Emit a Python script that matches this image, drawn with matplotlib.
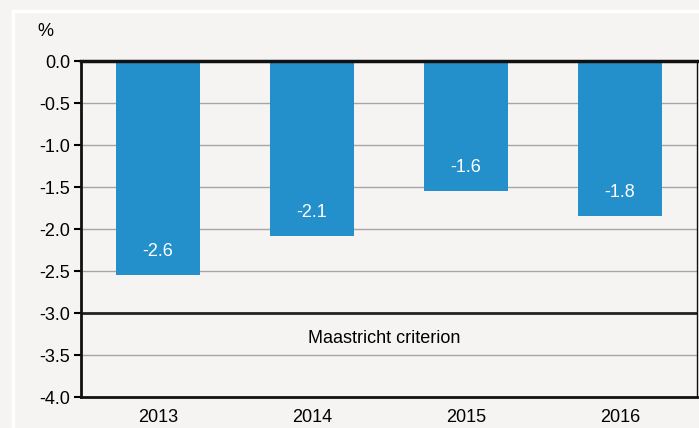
import matplotlib
matplotlib.use('Agg')
import matplotlib.pyplot as plt
from matplotlib.lines import Line2D

years = ['2013', '2014', '2015', '2016']
deficit = [-2.55, -2.08, -1.55, -1.84]
labels = ['-2.6', '-2.1', '-1.6', '-1.8']
yticks = [0.0, -0.5, -1.0, -1.5, -2.0, -2.5, -3.0, -3.5, -4.0]
criterion = -3.0

bg = '#f5f4f2'
blue = '#2390cc'

plt.rcParams['font.family'] = ['Liberation Sans', 'DejaVu Sans']
fs = 13

fig = plt.figure(figsize=(6.99, 4.28), dpi=100, facecolor=bg)
W, H = 699, 428
ax = fig.add_axes([81 / W, 1 - 397 / H, (697 - 81) / W, (397 - 61) / H])
ax.set_facecolor(bg)

# white frame
fig.add_artist(Line2D([13 / W, 13 / W], [0, 1 - 11 / H], color='white', lw=2.5, transform=fig.transFigure))
fig.add_artist(Line2D([13 / W, 1], [1 - 11 / H, 1 - 11 / H], color='white', lw=2.5, transform=fig.transFigure))

x = range(len(years))
for yv in yticks:
    if yv in (0.0, -4.0, criterion):
        continue
    ax.axhline(yv, color='#a6a6a6', lw=1, zorder=0)
ax.axhline(criterion, color='#222222', lw=2, zorder=1)

ax.bar(x, deficit, width=0.55, color=blue, zorder=2)
for i, (v, lab) in enumerate(zip(deficit, labels)):
    ax.text(i, v + 0.28, lab, ha='center', va='center', color='white', fontsize=fs, zorder=3)

ax.text(1.47, -3.30, 'Maastricht criterion', ha='center', va='center', fontsize=fs, color='black')

ax.set_xlim(-0.5, 3.5)
ax.set_ylim(-4.0, 0.0)
ax.set_yticks(yticks)
ax.set_yticklabels(['%.1f' % v for v in yticks], fontsize=fs)
ax.set_xticks(list(x))
ax.set_xticklabels(years, fontsize=fs)
ax.tick_params(axis='x', length=0, pad=9)
ax.tick_params(axis='y', length=5, width=1.5, direction='out', pad=3)

ax.spines['left'].set_linewidth(2)
ax.spines['bottom'].set_linewidth(2)
ax.spines['top'].set_linewidth(2.5)
ax.spines['right'].set_linewidth(1)
for s in ax.spines.values():
    s.set_color('#111111')

fig.text(45 / W, 1 - 31 / H, '%', ha='center', va='center', fontsize=fs)

fig.savefig('out.png', dpi=100, facecolor=bg)
